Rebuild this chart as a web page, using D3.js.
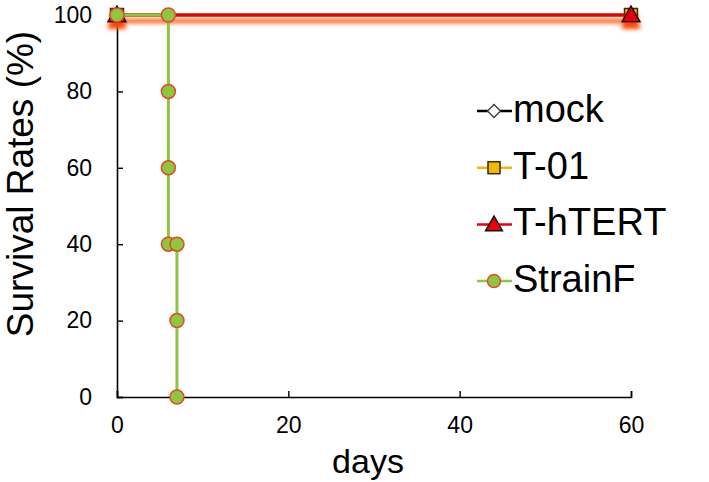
<!DOCTYPE html>
<html><head><meta charset="utf-8">
<script src="https://cdn.jsdelivr.net/npm/d3@7"></script>
<style>body{margin:0;background:#fff}text{font-family:"Liberation Sans",Arial,Helvetica,sans-serif}</style>
</head><body>
<script>
const seriesNames = ["mock","T-01","T-hTERT","StrainF"];
const mockDays = [0,60], mockVals = [100,100];
const t01Days = [0,60], t01Vals = [100,100];
const htertDays = [0,60], htertVals = [100,100];
const strainFDays = [0,6,6,6,6,7,7,7];
const strainFVals = [100,100,80,60,40,40,20,0];
const xTicks = [0,20,40,60];
const yTicks = [0,20,40,60,80,100];

const W=709,H=482;
const svg=d3.select("body").append("svg").attr("width",W).attr("height",H);
const defs=svg.append("defs");
const x=d3.scaleLinear().domain([0,60]).range([117,631]);
const y=d3.scaleLinear().domain([0,100]).range([397,15]);

function shadow(id,color,op){
  const f=defs.append("filter").attr("id",id).attr("x","-20%").attr("y","-50%").attr("width","140%").attr("height","300%");
  f.append("feDropShadow").attr("dx",0).attr("dy",6).attr("stdDeviation",2).attr("flood-color",color).attr("flood-opacity",op);
}
shadow("shO","#f7941d",0.85);shadow("shR","#ff2a00",0.8);

const series=[
 {name:seriesNames[0],days:mockDays,vals:mockVals,color:"#000",shape:"diamond"},
 {name:seriesNames[1],days:t01Days,vals:t01Vals,color:"#f5b800",shape:"square",filter:"shO"},
 {name:seriesNames[2],days:htertDays,vals:htertVals,color:"#e8000b",shape:"triangle",filter:"shR"},
 {name:seriesNames[3],days:strainFDays,vals:strainFVals,color:"#8cc63f",shape:"circle"}
];
function marker(g,shape,cx,cy,s){
  if(shape==="diamond") g.append("path").attr("d",d3.symbol(d3.symbolDiamond2,s*s*0.9)()).attr("transform",`translate(${cx},${cy})`).attr("fill","#fff").attr("stroke","#333").attr("stroke-width",1.2);
  else if(shape==="square") g.append("rect").attr("x",cx-s/2).attr("y",cy-s/2).attr("width",s).attr("height",s).attr("fill","#f5b800").attr("stroke","#3a2a10").attr("stroke-width",1.5);
  else if(shape==="triangle") g.append("path").attr("d",`M${cx},${cy-s*0.6}L${cx+s*0.6},${cy+s*0.45}L${cx-s*0.6},${cy+s*0.45}Z`).attr("fill","#e8000b").attr("stroke","#111").attr("stroke-width",1.5);
  else g.append("circle").attr("cx",cx).attr("cy",cy).attr("r",s/2).attr("fill","#8dc63f").attr("stroke","#e8452a").attr("stroke-width",1.5);
}

// axes
const gx=svg.append("g").attr("transform","translate(0,397)")
 .call(d3.axisBottom(x).tickValues(xTicks).tickSize(-6).tickPadding(12).tickFormat(d3.format("d")));
const gy=svg.append("g").attr("transform","translate(117,0)")
 .call(d3.axisLeft(y).tickValues(yTicks).tickSize(-6).tickPadding(25).tickFormat(d3.format("d")));
[gx,gy].forEach(g=>{g.select(".domain").attr("stroke","#000").attr("stroke-width",1.6);
 g.selectAll(".tick line").attr("stroke","#000").attr("stroke-width",1.4);
 g.selectAll(".tick text").attr("font-size",23).attr("fill","#000");});
gx.selectAll(".tick text").attr("y",0).attr("dy","36px");
gy.selectAll(".tick text").attr("x",-25);

const line=d3.line().x(d=>x(d[0])).y(d=>y(d[1]));
series.forEach(s=>{
  const g=svg.append("g");
  if(s.filter) g.attr("filter",`url(#${s.filter})`);
  const pts=s.days.map((d,i)=>[d,s.vals[i]]);
  g.append("path").attr("d",line(pts)).attr("fill","none").attr("stroke",s.color).attr("stroke-width",3);
  const sz={diamond:11,square:13,triangle:15,circle:14}[s.shape];
  pts.forEach(p=>marker(g,s.shape,x(p[0]),y(p[1]),sz));
});

// labels
svg.append("text").attr("x",368).attr("y",473).attr("text-anchor","middle").attr("font-size",34).text("days");
svg.append("text").attr("transform","translate(33,184) rotate(-90)").attr("text-anchor","middle").attr("font-size",37).text("Survival Rates (%)");

// legend
const lg=svg.append("g");
series.forEach((s,i)=>{
  const by=122+i*56.7, ly=by-11;
  lg.append("line").attr("x1",477).attr("x2",512).attr("y1",ly).attr("y2",ly).attr("stroke",s.color).attr("stroke-width",2.5);
  const sz={diamond:11,square:12,triangle:14,circle:13}[s.shape];
  marker(lg,s.shape,494,ly,sz);
  lg.append("text").attr("x",513).attr("y",by).attr("font-size",38).text(s.name);
});
</script>
</body></html>
